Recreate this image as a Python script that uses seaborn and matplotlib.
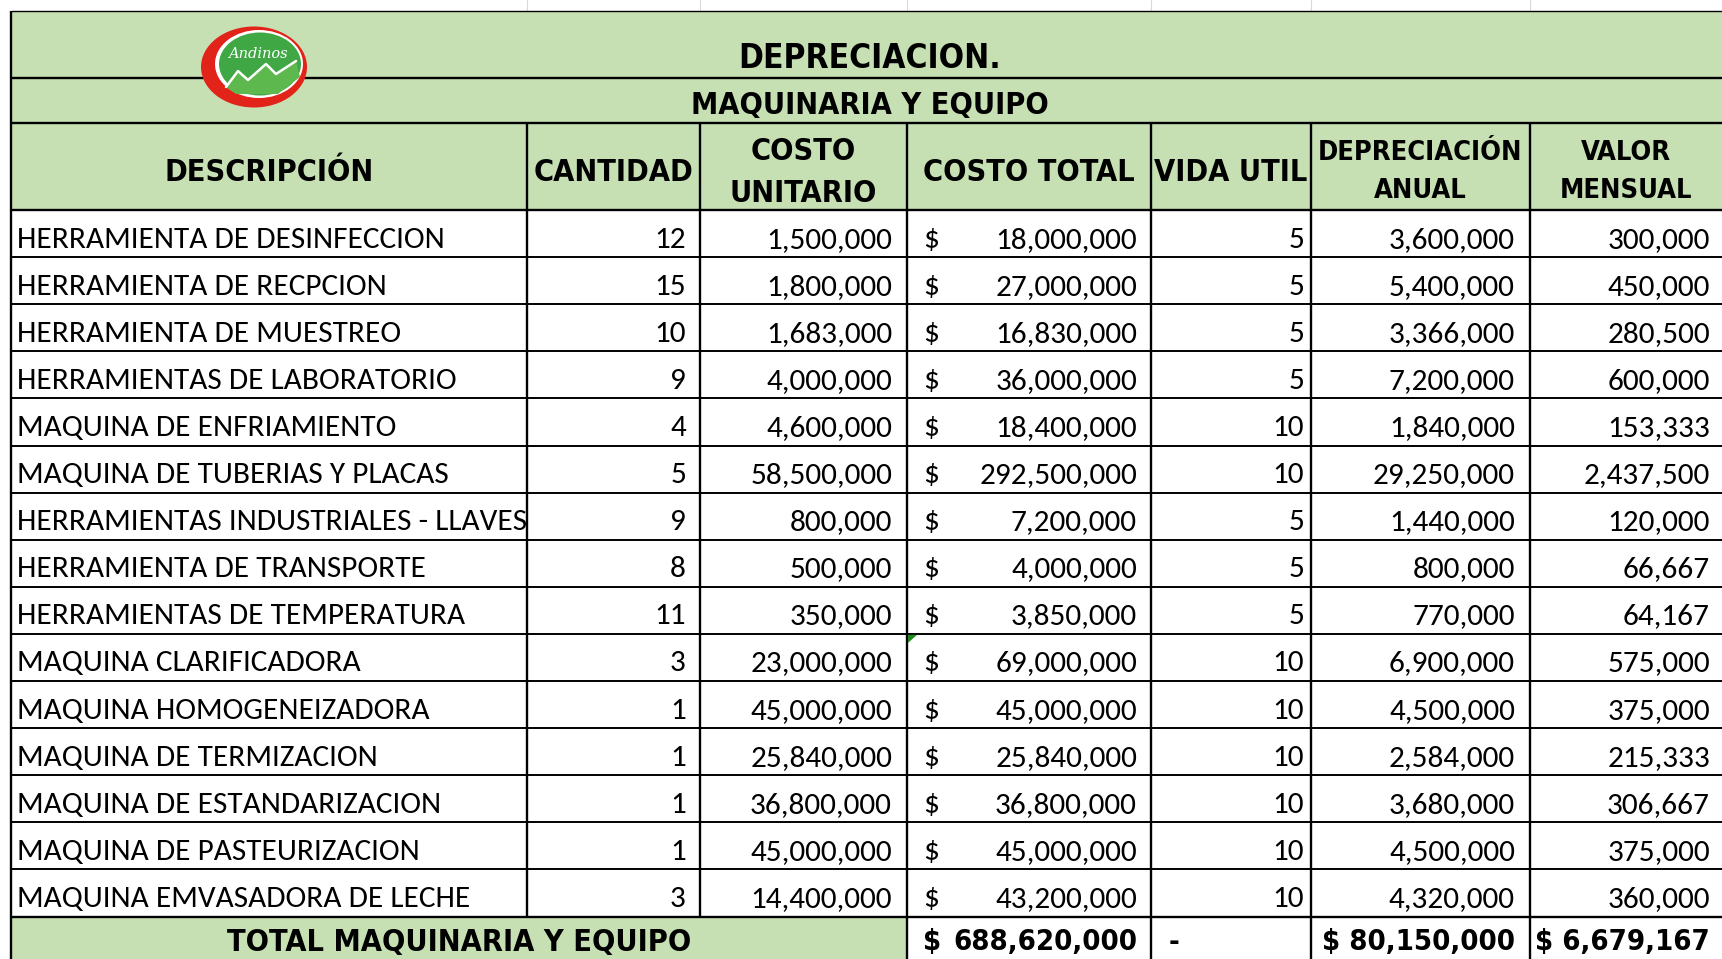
import matplotlib
matplotlib.use("Agg")
import matplotlib.pyplot as plt
import seaborn as sns
from matplotlib import font_manager as fm
from matplotlib.patches import Rectangle, Ellipse, Polygon

# ---------------- data ----------------
title = "DEPRECIACION."
subtitle = "MAQUINARIA Y EQUIPO"
headers = ["DESCRIPCIÓN", "CANTIDAD", "COSTO\nUNITARIO", "COSTO TOTAL",
           "VIDA UTIL", "DEPRECIACIÓN\nANUAL", "VALOR\nMENSUAL"]
descripcion = [
    "HERRAMIENTA DE DESINFECCION", "HERRAMIENTA DE RECPCION",
    "HERRAMIENTA DE MUESTREO", "HERRAMIENTAS DE LABORATORIO",
    "MAQUINA DE ENFRIAMIENTO", "MAQUINA DE TUBERIAS Y PLACAS",
    "HERRAMIENTAS INDUSTRIALES - LLAVES", "HERRAMIENTA DE TRANSPORTE",
    "HERRAMIENTAS DE TEMPERATURA", "MAQUINA CLARIFICADORA",
    "MAQUINA HOMOGENEIZADORA", "MAQUINA DE TERMIZACION",
    "MAQUINA DE ESTANDARIZACION", "MAQUINA DE PASTEURIZACION",
    "MAQUINA EMVASADORA DE LECHE"]
cantidad = [12, 15, 10, 9, 4, 5, 9, 8, 11, 3, 1, 1, 1, 1, 3]
costo_unitario = [1500000, 1800000, 1683000, 4000000, 4600000, 58500000, 800000,
                  500000, 350000, 23000000, 45000000, 25840000, 36800000,
                  45000000, 14400000]
costo_total = [18000000, 27000000, 16830000, 36000000, 18400000, 292500000,
               7200000, 4000000, 3850000, 69000000, 45000000, 25840000,
               36800000, 45000000, 43200000]
vida_util = [5, 5, 5, 5, 10, 10, 5, 5, 5, 10, 10, 10, 10, 10, 10]
depreciacion_anual = [3600000, 5400000, 3366000, 7200000, 1840000, 29250000,
                      1440000, 800000, 770000, 6900000, 4500000, 2584000,
                      3680000, 4500000, 4320000]
valor_mensual = [300000, 450000, 280500, 600000, 153333, 2437500, 120000, 66667,
                 64167, 575000, 375000, 215333, 306667, 375000, 360000]
total_label = "TOTAL MAQUINARIA Y EQUIPO"
total_costo = 688620000
total_vida = "-"
total_depreciacion = 80150000
total_mensual = 6679167

# ---------------- layout ----------------
W, H = 1722, 959
col_x = [11, 527, 700, 907, 1151, 1311, 1530, 1722]
y_top, y_sub, y_head, y_body = 11, 78, 123, 210
row_h = 47.1
n = len(descripcion)
y_total = y_body + n * row_h

GREEN = "#C6E0B4"
DATA_FONT = ["Carlito", "Lato", "DejaVu Sans"]

sns.set_theme(style="white")
plt.rcParams["font.family"] = DATA_FONT
plt.rcParams["text.color"] = "black"

# find a condensed bold face for the header texts
cond = None
for f in fm.fontManager.ttflist:
    nm = f.name.lower()
    if ("narrow" in nm or "condensed" in nm or f.stretch in ("condensed", "semi-condensed")) \
            and f.weight in ("bold", 700):
        cond = f.fname
        break
if cond:
    HEAD = dict(fontproperties=fm.FontProperties(fname=cond))
else:
    HEAD = dict(family=["Liberation Sans", "DejaVu Sans"], fontweight="bold")

def hp(size):
    d = dict(HEAD)
    if "fontproperties" in d:
        p = d["fontproperties"].copy()
        p.set_size(size)
        d["fontproperties"] = p
    else:
        d["fontsize"] = size
    return d

fig = plt.figure(figsize=(W / 100, H / 100), dpi=100)
ax = fig.add_axes([0, 0, 1, 1])
ax.set_xlim(0, W)
ax.set_ylim(H, 0)
ax.axis("off")

for x in col_x[1:-1]:
    ax.plot([x, x], [0, y_top], color="#d9d9d9", lw=0.8, zorder=0)

ax.add_patch(Rectangle((col_x[0], y_top), W - col_x[0], y_body - y_top,
                       facecolor=GREEN, edgecolor="none", zorder=1))
ax.add_patch(Rectangle((col_x[0], y_total), col_x[3] - col_x[0], H - y_total + 5,
                       facecolor=GREEN, edgecolor="none", zorder=1))

LW = 1.7
def hline(y, x0=col_x[0], x1=W, lw=LW):
    ax.plot([x0, x1], [y, y], color="black", lw=lw, solid_capstyle="butt", zorder=3)

def vline(x, y0, y1, lw=LW):
    ax.plot([x, x], [y0, y1], color="black", lw=lw, solid_capstyle="butt", zorder=3)

hline(y_top, lw=1.0)
hline(y_sub)
hline(y_head)
for i in range(n + 1):
    hline(y_body + i * row_h, lw=1.4 if i not in (0, n) else LW)
vline(col_x[0], y_top, H + 5)
for x in col_x[1:3]:
    vline(x, y_head, y_total)
for x in col_x[3:-1]:
    vline(x, y_head, H + 5)

ax.text(870, 58, title, ha="center", va="center", zorder=4, **hp(24))
ax.text(870, 106, subtitle, ha="center", va="center", zorder=4, **hp(22))

head_sizes = [22, 22, 22, 22, 22, 19.5, 19.5]
for j, h in enumerate(headers):
    cx = (col_x[j] + col_x[j + 1]) / 2
    ax.text(cx, (y_head + y_body) / 2 + 6, h, ha="center", va="center",
            linespacing=1.6, zorder=4, **hp(head_sizes[j]))

def fmt(v):
    return f"{v:,}"

clip = Rectangle((col_x[0], y_body), col_x[1] - col_x[0] - 1, n * row_h,
                 transform=ax.transData, facecolor="none", edgecolor="none")
ax.add_patch(clip)
FS = 22.5
for i in range(n):
    yc = y_body + i * row_h + row_h / 2 + 6
    t = ax.text(col_x[0] + 6, yc, descripcion[i], ha="left", va="center",
                fontsize=FS, zorder=4)
    t.set_clip_path(clip)
    ax.text(col_x[2] - 14, yc, str(cantidad[i]), ha="right", va="center", fontsize=FS, zorder=4)
    ax.text(col_x[3] - 15, yc, fmt(costo_unitario[i]), ha="right", va="center", fontsize=FS, zorder=4)
    ax.text(col_x[3] + 16, yc, "$", ha="left", va="center", fontsize=FS, zorder=4)
    ax.text(col_x[4] - 14, yc, fmt(costo_total[i]), ha="right", va="center", fontsize=FS, zorder=4)
    ax.text(col_x[5] - 7, yc, str(vida_util[i]), ha="right", va="center", fontsize=FS, zorder=4)
    ax.text(col_x[6] - 15, yc, fmt(depreciacion_anual[i]), ha="right", va="center", fontsize=FS, zorder=4)
    ax.text(col_x[7] - 12, yc, fmt(valor_mensual[i]), ha="right", va="center", fontsize=FS, zorder=4)

ty = y_body + 9 * row_h
ax.add_patch(Polygon([[col_x[3] + 1, ty + 1], [col_x[3] + 10, ty + 1], [col_x[3] + 1, ty + 9]],
                     closed=True, facecolor="#1e8a1e", edgecolor="none", zorder=5))

yt = y_total + 26
ax.text((col_x[0] + col_x[3]) / 2, yt, total_label, ha="center", va="center", zorder=4, **hp(22))
ax.text(col_x[3] + 16, yt, "$", ha="left", va="center", zorder=4, **hp(21))
ax.text(col_x[4] - 14, yt, fmt(total_costo), ha="right", va="center", zorder=4, **hp(21))
ax.text(col_x[4] + 18, yt, total_vida, ha="left", va="center", zorder=4, **hp(21))
ax.text(col_x[6] - 15, yt, "$ " + fmt(total_depreciacion), ha="right", va="center", zorder=4, **hp(21))
ax.text(col_x[7] - 12, yt, "$ " + fmt(total_mensual), ha="right", va="center", zorder=4, **hp(21))

# logo
lx, ly = 254, 67
ax.add_patch(Ellipse((lx, ly), 106, 81, facecolor="#E2231A", edgecolor="none", zorder=6))
ax.add_patch(Ellipse((lx + 5, ly - 3), 88, 68, facecolor="white", edgecolor="none", zorder=7))
ax.add_patch(Ellipse((lx + 6, ly - 3), 82, 63, facecolor="#3FA845", edgecolor="none", zorder=8))
ax.add_patch(Polygon([[lx - 28, ly + 20], [lx - 16, ly + 4], [lx - 6, ly + 13], [lx + 12, ly - 3],
                      [lx + 22, ly + 7], [lx + 42, ly - 6], [lx + 46, ly + 10], [lx + 24, ly + 27],
                      [lx - 18, ly + 27]],
                     closed=True, facecolor="#5DB84E", edgecolor="none", zorder=9))
ax.plot([lx - 28, lx - 16, lx - 6, lx + 12, lx + 22, lx + 42],
        [ly + 20, ly + 4, ly + 13, ly - 3, ly + 7, ly - 6],
        color="white", lw=1.8, zorder=10)
ax.text(lx + 4, ly - 13, "Andinos", ha="center", va="center", fontsize=10.5,
        style="italic", color="white", family=["DejaVu Serif"], zorder=10)

fig.savefig("out.png", dpi=100)
